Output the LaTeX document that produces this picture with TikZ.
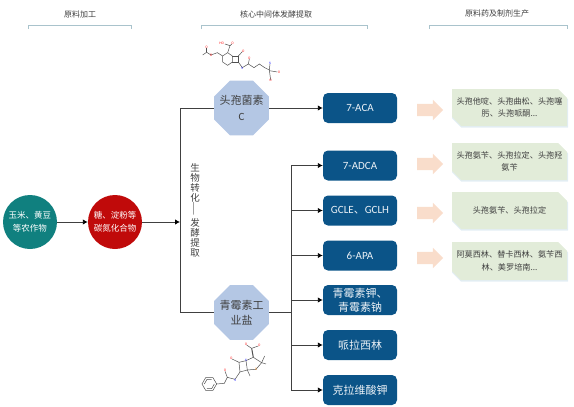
\documentclass[tikz,border=0pt]{standalone}
\usepackage{fontspec}
\setmainfont{Noto Sans CJK SC}
\newfontfamily\latinf{Carlito}
\usetikzlibrary{arrows.meta,shapes.geometric,shapes.arrows}
\definecolor{txt}{HTML}{404040}
\definecolor{boxblue}{HTML}{0B5488}
\definecolor{octblue}{HTML}{B4C7E4}
\definecolor{tealc}{HTML}{10807F}
\definecolor{redc}{HTML}{C00A0A}
\definecolor{cardg}{HTML}{E2ECD9}
\definecolor{cardsh}{HTML}{E3EEF5}
\definecolor{arrowo}{HTML}{F9DDCB}
\definecolor{brk}{HTML}{A9C3CC}
\definecolor{lnk}{HTML}{404040}
\definecolor{mol}{HTML}{505050}
\newcommand{\fsz}[2]{\fontsize{#1}{#2}\selectfont}
\newcommand{\cardat}[5]{% name, x-left, y-top, y-bottom, text
  \fill[cardsh] (#2,#3+1.5) -- (#2+107,#3+1.5) -- (#2+116,#3+10.5) -- (#2+116,#4+1.5) -- (#2+9,#4+1.5) -- (#2,#4-7.5) -- cycle;
  \fill[cardg] (#2,#3) -- (#2+106,#3) -- (#2+115,#3+9) -- (#2+115,#4) -- (#2+9,#4) -- (#2,#4-9) -- cycle;
  \node[cardtext] (#1) at (#2+57.5,{(#3+#4)/2}) {#5};}
\tikzset{
  header/.style={text=txt,font=\fsz{8}{10},inner sep=0pt},
  bracket/.style={draw=brk,line width=0.7pt},
  round node/.style={circle,minimum size=54pt,inner sep=0pt,text=white,align=center,font=\fsz{8.5}{13}},
  octa/.style={regular polygon,regular polygon sides=8,minimum size=59.5pt,inner sep=0pt,fill=octblue},
  octatext/.style={text=black!75,align=center,font=\fsz{11}{15.5}},
  pbox/.style={rounded corners=5pt,fill=boxblue,draw=none,minimum width=74pt,minimum height=30pt,inner sep=0pt,text=white!92!boxblue,align=center,font=\fsz{11}{14}},
  cardtext/.style={inner sep=0pt,text=txt,align=center,font=\fsz{8.15}{12.5}},
  pale/.style={single arrow,single arrow head extend=4pt,minimum height=26pt,inner sep=0pt,fill=arrowo},
  link/.style={draw=lnk,line width=0.9pt},
  arr/.style={link,-{Latex[length=5pt,width=5.5pt,black]}},
  bond/.style={draw=mol,line width=0.5pt},
  atom/.style={font=\fsz{3.2}{3.2},inner sep=0pt},
}
\begin{document}
\begin{tikzpicture}[x=1pt,y=-1pt]
\useasboundingbox (0,0) rectangle (574,407);
% headers
\node[header] (h1) at (80,14) {原料加工};
\node[header] (h2) at (276,14) {核心中间体发酵提取};
\node[header] (h3) at (497,13) {原料药及制剂生产};
\draw[bracket] (28.5,29) -- (28.5,25.5) -- (131,25.5) -- (131,29);
\draw[bracket] (201,29) -- (201,25.5) -- (367.5,25.5) -- (367.5,29);
\draw[bracket] (429.5,29) -- (429.5,25.5) -- (567,25.5) -- (567,29);
% circles
\node[round node,fill=tealc] (c1) at (30,222) {玉米、黄豆\\等农作物};
\node[round node,fill=redc] (c2) at (115,222) {糖、淀粉等\\碳氮化合物};
% octagons
\node[octa,label={[octatext]center:头孢菌素\\{\latinf C}}] (o1) at (241.5,108) {};
\node[octa,label={[octatext]center:青霉素工\\业盐}] (o2) at (241.5,312.5) {};
% product boxes
\node[pbox] (b1) at (360,108) {\latinf 7-ACA};
\node[pbox] (b2) at (360,165.5) {\latinf 7-ADCA};
\node[pbox] (b3) at (360,210.5) {\latinf GCLE{\rmfamily 、}GCLH};
\node[pbox] (b4) at (360,255.5) {\latinf 6-APA};
\node[pbox] (b5) at (360,300) {青霉素钾、\\青霉素钠};
\node[pbox] (b6) at (360,345) {哌拉西林};
\node[pbox] (b7) at (360,390) {克拉维酸钾};
% left trunk
\coordinate (tt) at (180,108);
\coordinate (tb) at (180,312.5);
\coordinate (tm) at (180,222);
\draw[link] (o1.west) -- (tt) -- (tb) -- (o2.west);
\draw[arr] (c1) -- (c2);
\draw[arr] (c2) -- (tm);
\node[text=txt,align=center,font=\fsz{9.5}{10},inner sep=0pt] (vt) at (195,210) {生\\物\\转\\化\\[-1pt]\rotatebox{90}{\fsz{8}{8}——}\\[1pt]发\\酵\\提\\取};
% right trunk
\coordinate (tr) at (291,312.5);
\draw[arr] (o1) -- (b1);
\draw[link] (o2.east) -- (tr);
\foreach \b in {b2,b3,b4,b5,b6,b7} \draw[arr] (tr) |- (\b.west);
% pale arrows and cards
\node[pale] (a1) at (427,110) {\rule{0pt}{12pt}};
\node[pale] (a2) at (427,164) {\rule{0pt}{12pt}};
\node[pale] (a3) at (427,213) {\rule{0pt}{12pt}};
\node[pale] (a4) at (427,258) {\rule{0pt}{12pt}};
\cardat{k1}{452}{89}{126}{头孢他啶、头孢曲松、头孢噻\\肟、头孢哌酮...}
\cardat{k2}{452}{143}{180}{头孢氨苄、头孢拉定、头孢羟\\氨苄}
\cardat{k3}{452}{192}{229}{头孢氨苄、头孢拉定}
\cardat{k4}{452}{242}{280}{阿莫西林、替卡西林、氨苄西\\林、美罗培南...}
% molecule: cephalosporin C
\begin{scope}[shift={(180,0)},x=0.3333pt,y=-0.3333pt]
\draw[bond] (128,168) -- (143,158) -- (157,168) -- (157,186) -- (143,196) -- (128,186) -- cycle;
\draw[bond] (68,165) -- (80,157) -- (93,165) -- (112,158) -- (128,168);
\draw[bond] (80,157) -- (80,145);
\draw[bond] (157,168) -- (175,168) -- (175,186) -- (157,186);
\draw[bond] (175,168) -- (187,155);
\draw[bond] (143,158) -- (150,137) -- (155,132);
\draw[bond] (150,137) -- (135,132);
\draw[bond] (175,186) -- (187,203) -- (205,192) -- (208,177);
\draw[bond] (205,192) -- (222,203) -- (238,192) -- (254,203) -- (268,210) -- (272,240);
\draw[bond] (268,210) -- (270,192);
\draw[bond] (268,212) -- (292,216);
\node[atom,text=red] (m1) at (80,142) {O};
\node[atom,text=red] (m2) at (93,166) {O};
\node[atom,text=red] (m3) at (190,154) {O};
\node[atom,text=red] (m4) at (125,131) {HO};
\node[atom,text=red] (m5) at (158,130) {O};
\node[atom,text=blue!70] (m6) at (187,204) {N};
\node[atom,text=red] (m7) at (208,175) {O};
\node[atom,text=blue!70] (m8) at (270,189) {N};
\node[atom,text=red] (m9) at (297,216) {O};
\node[atom,text=red] (m10) at (272,241) {O};
\end{scope}
% molecule: penicillin
\begin{scope}[shift={(170,270)},x=0.3333pt,y=-0.3333pt]
\draw[bond] (140,342) -- (129,361) -- (107,361) -- (96,342) -- (107,323) -- (129,323) -- cycle;
\draw[bond] (133,342) -- (125,356) -- (111,356);
\draw[bond] (103,342) -- (111,328) -- (125,328);
\draw[bond] (140,342) -- (163,340) -- (172,322) -- (195,328) -- (210,306);
\draw[bond] (172,322) -- (165,304);
\draw[bond] (210,306) -- (207,277) -- (228,272) -- (232,300) -- cycle;
\draw[bond] (207,277) -- (186,267);
\draw[bond] (228,272) -- (250,262) -- (275,278) -- (258,298) -- (232,300);
\draw[draw=mol,line width=1pt] (250,262) -- (245,235);
\draw[bond] (245,235) -- (230,225);
\draw[bond] (245,235) -- (265,228);
\draw[bond] (275,278) -- (288,282);
\draw[bond] (275,278) -- (284,258);
\draw[bond] (232,300) -- (240,318);
\node[atom,text=red] (p1) at (165,301) {O};
\node[atom,text=blue!70] (p2) at (196,331) {N};
\node[atom,text=red] (p3) at (184,266) {O};
\node[atom,text=blue!70] (p4) at (228,272) {N};
\node[atom,text=orange] (p5) at (258,298) {S};
\node[atom,text=red] (p6) at (228,224) {O};
\node[atom,text=red] (p7) at (268,227) {O};
\end{scope}
\end{tikzpicture}
\end{document}
